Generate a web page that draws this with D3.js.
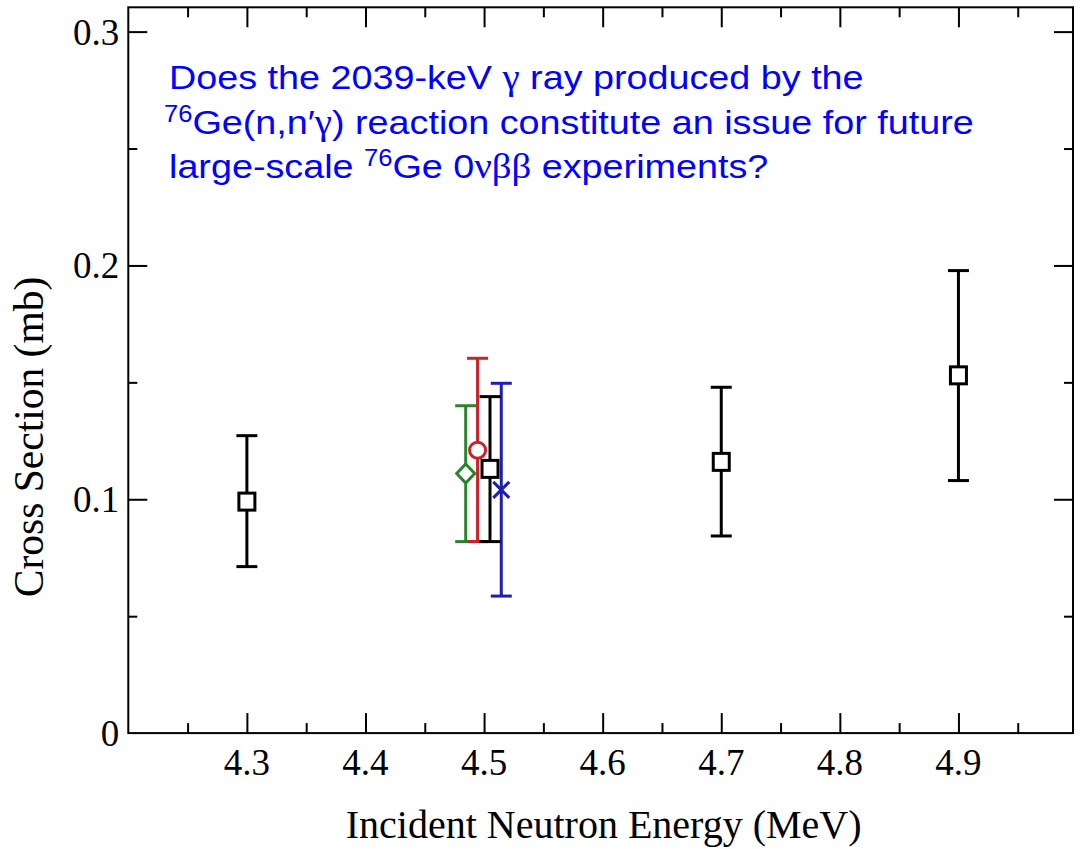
<!DOCTYPE html>
<html>
<head>
<meta charset="utf-8">
<script src="https://cdn.jsdelivr.net/npm/d3@7"></script>
<style>
  html, body { margin: 0; padding: 0; background: #ffffff; }
  svg { display: block; }
</style>
</head>
<body>
<svg id="chart" width="1081" height="849"></svg>
<script>
// Cross section of the 2039-keV gamma line in 76Ge(n,n'gamma) vs. incident neutron energy

// Present measurement (open squares)
const energyMeV   = [4.3, 4.505, 4.7, 4.9];
const sigma       = [0.099, 0.113, 0.116, 0.153];
const sigmaLow    = [0.0712, 0.0819, 0.0843, 0.108];
const sigmaHigh   = [0.1272, 0.1439, 0.1479, 0.1978];

// Other measurements near 4.5 MeV
const otherNames  = ["diamond", "circle", "cross"];
const otherEnergy = [4.4845, 4.4945, 4.5145];
const otherSigma  = [0.111, 0.121, 0.104];
const otherLow    = [0.0819, 0.0819, 0.0586];
const otherHigh   = [0.140, 0.1603, 0.1496];
const otherColors = ["#2a842a", "#c8232b", "#1e1eb0"];

// Axis ticks
const xMajorTicks = [4.3, 4.4, 4.5, 4.6, 4.7, 4.8, 4.9];
const xMinorTicks = [4.25, 4.35, 4.45, 4.55, 4.65, 4.75, 4.85, 4.95];
const yMajorTicks = [0, 0.1, 0.2, 0.3];
const yMinorTicks = [0.05, 0.15, 0.25];
const xDomain = [4.2, 4.9966];
const yDomain = [0, 0.3104];

const svg = d3.select("#chart");
const plotL = 128.3, plotR = 1073, plotT = 7.3, plotB = 733.1;

const x = d3.scaleLinear().domain(xDomain).range([plotL, plotR]);
const y = d3.scaleLinear().domain(yDomain).range([plotB, plotT]);

const serif = "'Liberation Serif', 'Times New Roman', serif";
const sans = "'Liberation Sans', Arial, sans-serif";

// Frame
svg.append("rect")
  .attr("x", plotL).attr("y", plotT)
  .attr("width", plotR - plotL).attr("height", plotB - plotT)
  .attr("fill", "none").attr("stroke", "#000").attr("stroke-width", 2);

// Inward ticks on all four sides
const major = 20, minor = 10;
function styleAxis(g) {
  g.select(".domain").remove();
  g.selectAll(".tick line").attr("stroke", "#000").attr("stroke-width", 2);
}
// bottom
svg.append("g").attr("transform", `translate(0,${plotB})`)
  .call(d3.axisTop(x).tickValues(xMajorTicks).tickSize(major).tickFormat(""))
  .call(styleAxis);
svg.append("g").attr("transform", `translate(0,${plotB})`)
  .call(d3.axisTop(x).tickValues(xMinorTicks).tickSize(minor).tickFormat(""))
  .call(styleAxis);
// top
svg.append("g").attr("transform", `translate(0,${plotT})`)
  .call(d3.axisBottom(x).tickValues(xMajorTicks).tickSize(major).tickFormat(""))
  .call(styleAxis);
svg.append("g").attr("transform", `translate(0,${plotT})`)
  .call(d3.axisBottom(x).tickValues(xMinorTicks).tickSize(minor).tickFormat(""))
  .call(styleAxis);
// left
svg.append("g").attr("transform", `translate(${plotL},0)`)
  .call(d3.axisRight(y).tickValues(yMajorTicks.filter(v => v > 0)).tickSize(major - 1).tickFormat(""))
  .call(styleAxis);
svg.append("g").attr("transform", `translate(${plotL},0)`)
  .call(d3.axisRight(y).tickValues(yMinorTicks).tickSize(minor - 1).tickFormat(""))
  .call(styleAxis);
// right
svg.append("g").attr("transform", `translate(${plotR},0)`)
  .call(d3.axisLeft(y).tickValues(yMajorTicks.filter(v => v > 0)).tickSize(major - 1).tickFormat(""))
  .call(styleAxis);
svg.append("g").attr("transform", `translate(${plotR},0)`)
  .call(d3.axisLeft(y).tickValues(yMinorTicks).tickSize(minor - 1).tickFormat(""))
  .call(styleAxis);

// Tick labels
svg.append("g").selectAll("text").data(xMajorTicks).join("text")
  .attr("x", d => x(d)).attr("y", plotB + 42)
  .attr("text-anchor", "middle")
  .attr("font-family", serif).attr("font-size", 37)
  .text(d => d3.format(".1f")(d));

svg.append("g").selectAll("text").data(yMajorTicks).join("text")
  .attr("x", plotL - 9).attr("y", d => y(d) + 13)
  .attr("text-anchor", "end")
  .attr("font-family", serif).attr("font-size", 37)
  .text(d => d === 0 ? "0" : d3.format(".1f")(d));

// Axis titles
svg.append("text")
  .attr("x", (plotL + plotR) / 2 + 3).attr("y", 838)
  .attr("text-anchor", "middle")
  .attr("font-family", serif).attr("font-size", 40)
  .text("Incident Neutron Energy (MeV)");

svg.append("text")
  .attr("transform", `translate(43,${437}) rotate(-90)`)
  .attr("text-anchor", "middle")
  .attr("font-family", serif).attr("font-size", 41.5)
  .text("Cross Section (mb)");

// Error bars helper
const capHalf = 10.5;
function errorBar(g, xv, lo, hi, color) {
  g.append("line").attr("x1", x(xv)).attr("x2", x(xv))
    .attr("y1", y(lo)).attr("y2", y(hi))
    .attr("stroke", color).attr("stroke-width", 3);
  [lo, hi].forEach(v => {
    g.append("line").attr("x1", x(xv) - capHalf).attr("x2", x(xv) + capHalf)
      .attr("y1", y(v)).attr("y2", y(v))
      .attr("stroke", color).attr("stroke-width", 3);
  });
}

// Other measurements
const others = svg.append("g");
otherEnergy.forEach((e, i) => errorBar(others, e, otherLow[i], otherHigh[i], otherColors[i]));
otherEnergy.forEach((e, i) => {
  const cx = x(e), cy = y(otherSigma[i]), c = otherColors[i];
  if (otherNames[i] === "diamond") {
    others.append("path")
      .attr("d", `M${cx},${cy - 9.5}L${cx + 9},${cy}L${cx},${cy + 9.5}L${cx - 9},${cy}Z`)
      .attr("fill", "#fff").attr("stroke", c).attr("stroke-width", 3);
  } else if (otherNames[i] === "circle") {
    others.append("circle").attr("cx", cx).attr("cy", cy).attr("r", 8)
      .attr("fill", "#fff").attr("stroke", c).attr("stroke-width", 3);
  } else {
    others.append("path")
      .attr("d", `M${cx - 8},${cy - 8}L${cx + 8},${cy + 8}M${cx - 8},${cy + 8}L${cx + 8},${cy - 8}`)
      .attr("stroke", c).attr("stroke-width", 3).attr("fill", "none");
  }
});

// Present measurement
const present = svg.append("g");
energyMeV.forEach((e, i) => errorBar(present, e, sigmaLow[i], sigmaHigh[i], "#000"));
present.selectAll("rect").data(energyMeV).join("rect")
  .attr("x", d => x(d) - 8).attr("y", (d, i) => y(sigma[i]) - 8.5)
  .attr("width", 16).attr("height", 17)
  .attr("fill", "#fff").attr("stroke", "#000").attr("stroke-width", 3);

// Question text (slightly wide lettering)
const note = svg.append("g").attr("fill", "#0000ff").attr("font-family", sans).attr("font-size", 34);
const stretch = 1.11;
function noteLine(x0, y0) {
  return note.append("text").attr("transform", `translate(${x0},${y0}) scale(${stretch},1)`);
}
const t1 = noteLine(169, 89);
t1.append("tspan").text("Does the 2039-keV ");
t1.append("tspan").attr("font-family", serif).attr("font-size", 35).text("γ");
t1.append("tspan").text(" ray produced by the");

const t2 = noteLine(164, 134);
t2.append("tspan").attr("font-size", 23).attr("dy", -12).text("76");
t2.append("tspan").attr("dy", 12).text("Ge(n,n′");
t2.append("tspan").attr("font-family", serif).attr("font-size", 35).text("γ");
t2.append("tspan").text(") reaction constitute an issue for future");

const t3 = noteLine(169, 178);
t3.append("tspan").text("large-scale ");
t3.append("tspan").attr("font-size", 23).attr("dy", -12).text("76");
t3.append("tspan").attr("dy", 12).text("Ge 0");
t3.append("tspan").attr("font-family", serif).attr("font-size", 35).text("νββ");
t3.append("tspan").text(" experiments?");
</script>
</body>
</html>
